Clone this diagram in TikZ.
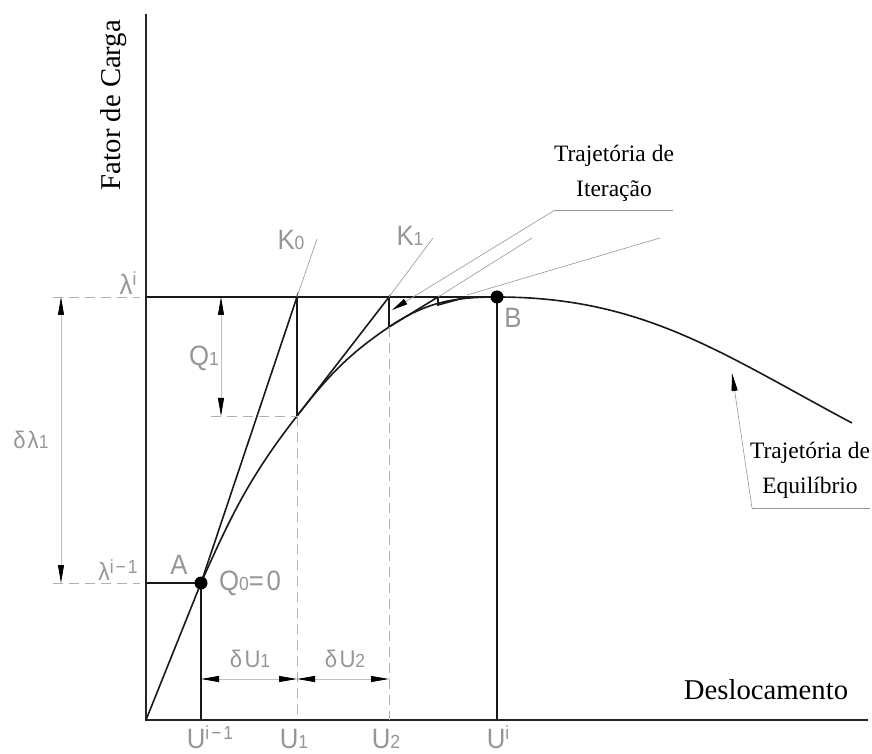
\documentclass[tikz,border=0pt]{standalone}
\usepackage{fontspec}
\setmainfont{Liberation Serif}
\newfontfamily\cadfont{Liberation Sans}[FakeStretch=0.92,LetterSpace=10]
\usetikzlibrary{arrows.meta}
\definecolor{cadgray}{RGB}{150,150,150}
\newcommand{\cadsub}[1]{{\fontsize{19}{19}\selectfont #1}}
\newcommand{\cadsup}[1]{\raisebox{0.3em}{\fontsize{19}{19}\selectfont #1}}

\begin{document}
\begin{tikzpicture}[x=1pt,y=1pt,
	>={Triangle[length=18pt,width=6pt,color=black]},
	axis/.style={line width=1.8pt,draw=black!85},
	eqpath/.style={line width=1.6pt,draw=black!90},
	thinline/.style={line width=0.6pt,draw=cadgray},
	extline/.style={line width=0.9pt,draw=black!30,dash pattern=on 10pt off 6pt},
	dimline/.style={line width=0.8pt,draw=black!25,<->},
	cad/.style={text=cadgray,font=\cadfont\fontsize{28}{30}\selectfont,inner sep=0pt},
	cadsmall/.style={cad,font=\cadfont\fontsize{24}{26}\selectfont},
	textlabel/.style={font=\fontsize{28.7}{32}\selectfont,inner sep=0pt},
	leadtext/.style={font=\fontsize{23.5}{35}\selectfont,align=center,inner sep=0pt},
	knot/.style={circle,fill=black,inner sep=0pt,minimum size=13pt}]
	\useasboundingbox (0,0) rectangle (872,753);
	
	% Points
	\coordinate (O) at (146,33);
	\coordinate (Ytop) at (146,739);
	\coordinate (Xend) at (868,33);
	\coordinate (A) at (201,170);
	\coordinate (P1) at (297,337);
	\coordinate (P2) at (389,426);
	\coordinate (P3) at (438,448);
	\coordinate (B) at (497,456);
	\coordinate (Bend) at (852,330);
	\coordinate (Li) at (146,456);
	\coordinate (Lim) at (146,170);
	\coordinate (K0top) at (297,456);
	\coordinate (K1top) at (389,456);
	\coordinate (K2top) at (438,456);
	\coordinate (K3top) at (467,456);
	\coordinate (Uim) at (201,33);
	\coordinate (U1) at (297,33);
	\coordinate (U2) at (389,33);
	\coordinate (Ui) at (497,33);
	
	% Axes
	\draw[axis] (Ytop) -- (O) -- (Xend);
	\node[textlabel] (xlab) at (766,63) {Deslocamento};
	\node[textlabel,rotate=90] (ylab) at (114,648) {Fator de Carga};
	
	% Equilibrium path
	\draw[eqpath] (O) -- (A) to[out=66,in=232] (P1) to[out=52,in=214] (P2)
		to[out=34,in=180] (B) to[out=0,in=152] (Bend);
	
	% Iterations
	\draw[eqpath] (A) -- (K0top) -- (P1) -- (K1top) -- (P2) -- (K2top) -- (P3) -- (K3top);
	\draw[eqpath] (Li) -- (B);
	\draw[eqpath] (Lim) -- (A);
	\draw[eqpath] (A) -- (Uim);
	\draw[eqpath] (B) -- (Ui);
	\draw[extline] (P1) -- (U1);
	\draw[extline] (P2) -- (U2);
	\node[knot] (dotA) at (A) {};
	\node[knot] (dotB) at (B) {};
	
	% Load dimensions
	\coordinate (dlt) at (61,456);
	\coordinate (dlb) at (61,170);
	\coordinate (extL1) at (53,456);
	\coordinate (extR1) at (140,456);
	\coordinate (extL2) at (53,170);
	\coordinate (extR2) at (140,170);
	\draw[extline] (extL1) -- (extR1);
	\draw[extline] (extL2) -- (extR2);
	\draw[dimline] (dlt) -- (dlb);
	\coordinate (q1t) at (221,456);
	\coordinate (q1b) at (221,337);
	\coordinate (q1e) at (211,337);
	\draw[extline] (q1e) -- (P1);
	\draw[dimline] (q1t) -- (q1b);
	
	% Displacement dimensions
	\coordinate (du0) at (201,74);
	\coordinate (du1) at (297,74);
	\coordinate (du2) at (389,74);
	\draw[dimline] (du0) -- (du1);
	\draw[dimline] (du1) -- (du2);
	
	% Leaders
	\coordinate (k0lead) at (317,514);
	\coordinate (k1lead) at (433,515);
	\draw[thinline] (K0top) -- (k0lead);
	\draw[thinline] (K1top) -- (k1lead);
	\coordinate (it1) at (555,543);
	\coordinate (it2) at (673,543);
	\coordinate (itTip) at (392,443);
	\coordinate (it3) at (532,515);
	\coordinate (it4) at (660,515);
	\coordinate (it5) at (467,458);
	\draw[thinline] (it2) -- (it1);
	\draw[thinline,-{Triangle[length=16pt,width=6pt,color=black]}] (it1) -- (itTip);
	\draw[thinline] (it3) -- (K2top);
	\draw[thinline] (it4) -- (it5);
	\coordinate (eq1) at (752,245);
	\coordinate (eq2) at (870,245);
	\coordinate (eqTip) at (732,380);
	\draw[thinline] (eq2) -- (eq1);
	\draw[thinline,->] (eq1) -- (eqTip);
	\node[leadtext] (itlab) at (614,580) {Trajetória de\\Iteração};
	\node[leadtext] (eqlab) at (810,283) {Trajetória de\\Equilíbrio};
	
	% Labels
	\node[cad] (lamI) at (128,470) {λ\cadsup{i}};
	\node[cad,font=\cadfont\fontsize{25}{27}\selectfont] (lamIm) at (118,183) {λ\cadsup{i−1}};
	\node[cadsmall] (dlam) at (31,313) {δλ\cadsub{1}};
	\node[cad] (Q1) at (204,395) {Q\cadsub{1}};
	\node[cad] (labA) at (179,188) {A};
	\node[cad] (Q0) at (250,170) {Q\cadsub{0}=0};
	\node[cad] (K0) at (291,513) {K\cadsub{0}};
	\node[cad] (K1) at (410,517) {K\cadsub{1}};
	\node[cad] (labB) at (513,435) {B};
	\node[cadsmall] (dU1) at (250,94) {δU\cadsub{1}};
	\node[cadsmall] (dU2) at (345,94) {δU\cadsub{2}};
	\node[cad,anchor=base] (labUim) at (210,5) {U\cadsup{i−1}};
	\node[cad,anchor=base] (labU1) at (294,5) {U\cadsub{1}};
	\node[cad,anchor=base] (labU2) at (386,5) {U\cadsub{2}};
	\node[cad,anchor=base] (labUi) at (498,5) {U\cadsup{i}};
\end{tikzpicture}
\end{document}
